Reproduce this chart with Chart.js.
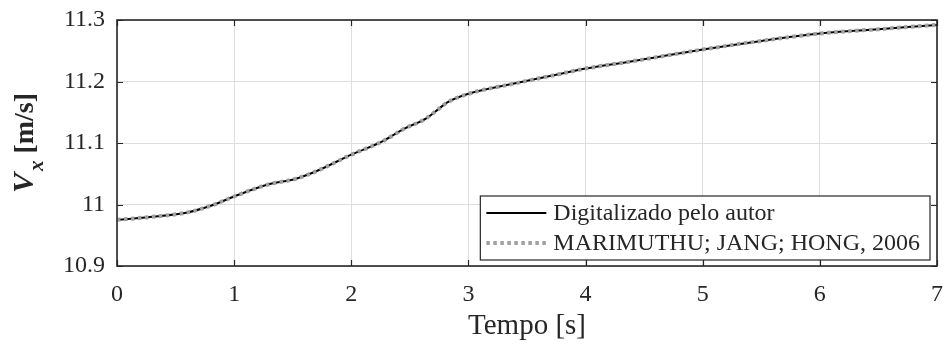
<!DOCTYPE html>
<html>
<head>
<meta charset="utf-8">
<script src="https://cdn.jsdelivr.net/npm/chart.js@4/dist/chart.umd.min.js"></script>
<style>
  html, body { margin: 0; padding: 0; background: #ffffff; }
  #wrap { width: 947px; height: 347px; position: relative; }
</style>
</head>
<body>
<div id="wrap"><canvas id="c" width="947" height="347"></canvas></div>
<script>
// ---- data ----
const timeValues = [0, 0.3, 0.6, 0.8, 1.0, 1.28, 1.53, 1.7, 2.0, 2.27, 2.45, 2.64, 2.73, 2.82, 3.0, 3.4, 3.8, 4.0, 4.4, 5.0, 5.5, 6.0, 6.5, 7.0];
const digitizedValues = [10.975, 10.980, 10.987, 10.998, 11.013, 11.032, 11.042, 11.054, 11.081, 11.103, 11.123, 11.140, 11.153, 11.166, 11.180, 11.197, 11.213, 11.221, 11.233, 11.252, 11.266, 11.278, 11.285, 11.292];
const referenceValues = [10.975, 10.980, 10.987, 10.998, 11.013, 11.032, 11.042, 11.054, 11.081, 11.103, 11.123, 11.140, 11.153, 11.166, 11.180, 11.197, 11.213, 11.221, 11.233, 11.252, 11.266, 11.278, 11.285, 11.292];
const seriesLabels = ['Digitalizado pelo autor', 'MARIMUTHU; JANG; HONG, 2006'];
const xTicks = [0, 1, 2, 3, 4, 5, 6, 7];
const yTicks = [10.9, 11.0, 11.1, 11.2, 11.3];
const xTitle = 'Tempo [s]';
const yTitleMain = 'V';
const yTitleSub = 'x';
const yTitleUnit = ' [m/s]';

const FONT = '"Liberation Serif", "Times New Roman", serif';
const TXT = '#262626';

const toPoints = (xs, ys) => xs.map((x, i) => ({ x: x, y: ys[i] }));

const matlabPlugin = {
  id: 'matlabStyle',
  afterDraw(chart) {
    const ctx = chart.ctx;
    const a = chart.chartArea;
    const xs = chart.scales.x, ys = chart.scales.y;
    ctx.save();
    // inward ticks
    ctx.strokeStyle = TXT;
    ctx.lineWidth = 1.2;
    const tl = 6;
    ctx.beginPath();
    xTicks.forEach(v => {
      const px = Math.round(xs.getPixelForValue(v)) + 0.5;
      ctx.moveTo(px, a.bottom); ctx.lineTo(px, a.bottom - tl);
      ctx.moveTo(px, a.top); ctx.lineTo(px, a.top + tl);
    });
    yTicks.forEach(v => {
      const py = Math.round(ys.getPixelForValue(v)) + 0.5;
      ctx.moveTo(a.left, py); ctx.lineTo(a.left + tl, py);
      ctx.moveTo(a.right, py); ctx.lineTo(a.right - tl, py);
    });
    ctx.stroke();
    // box
    ctx.lineWidth = 1.6;
    ctx.strokeRect(a.left, a.top, a.right - a.left, a.bottom - a.top);

    // legend
    ctx.font = '24px ' + FONT;
    const textW = Math.max(...seriesLabels.map(s => ctx.measureText(s).width));
    const padL = 6, sampleW = 60, gap = 7, padR = 10, rowH = 30;
    const boxRight = a.right - 7;
    const boxBottom = a.bottom - 6;
    const boxW = padL + sampleW + gap + textW + padR;
    const boxH = rowH * seriesLabels.length + 4;
    const boxLeft = boxRight - boxW;
    const boxTop = boxBottom - boxH;
    ctx.fillStyle = '#ffffff';
    ctx.fillRect(boxLeft, boxTop, boxW, boxH);
    ctx.strokeStyle = TXT;
    ctx.lineWidth = 1.2;
    ctx.strokeRect(boxLeft, boxTop, boxW, boxH);
    chart.data.datasets.forEach((ds, i) => {
      const cy = boxTop + 17 + i * rowH;
      ctx.save();
      ctx.strokeStyle = ds.borderColor;
      ctx.lineWidth = ds.borderWidth;
      ctx.setLineDash(ds.borderDash || []);
      ctx.beginPath();
      ctx.moveTo(boxLeft + padL, cy);
      ctx.lineTo(boxLeft + padL + sampleW, cy);
      ctx.stroke();
      ctx.restore();
      ctx.fillStyle = TXT;
      ctx.textBaseline = 'middle';
      ctx.textAlign = 'left';
      ctx.fillText(ds.label, boxLeft + padL + sampleW + gap, cy + 1);
    });

    // y axis title with subscript
    ctx.translate(33, (a.top + a.bottom) / 2);
    ctx.rotate(-Math.PI / 2);
    ctx.fillStyle = TXT;
    ctx.textBaseline = 'alphabetic';
    ctx.textAlign = 'left';
    const fMain = 'italic bold 30px ' + FONT;
    const fSub = 'italic bold 21px ' + FONT;
    const fUnit = 'bold 28px ' + FONT;
    ctx.font = fMain; const wV = ctx.measureText(yTitleMain).width;
    ctx.font = fSub; const wX = ctx.measureText(yTitleSub).width;
    ctx.font = fUnit; const wU = ctx.measureText(yTitleUnit).width;
    const total = wV + 2 + wX + wU;
    let x0 = -total / 2;
    ctx.font = fMain; ctx.fillText(yTitleMain, x0, 0);
    x0 += wV + 2;
    ctx.font = fSub; ctx.fillText(yTitleSub, x0, 10);
    x0 += wX;
    ctx.font = fUnit; ctx.fillText(yTitleUnit, x0, 0);
    ctx.restore();
  }
};

new Chart(document.getElementById('c'), {
  type: 'line',
  data: {
    datasets: [
      {
        label: seriesLabels[0],
        data: toPoints(timeValues, digitizedValues),
        borderColor: '#000000',
        borderWidth: 2,
        pointRadius: 0,
        cubicInterpolationMode: 'monotone',
        order: 2
      },
      {
        label: seriesLabels[1],
        data: toPoints(timeValues, referenceValues),
        borderColor: '#a0a0a0',
        borderWidth: 4,
        borderDash: [3.5, 3.5],
        pointRadius: 0,
        cubicInterpolationMode: 'monotone',
        order: 1
      }
    ]
  },
  options: {
    responsive: false,
    animation: false,
    devicePixelRatio: 1,
    layout: { padding: { left: 0, right: 10, top: 20, bottom: 0 } },
    plugins: { legend: { display: false }, tooltip: { enabled: false } },
    scales: {
      x: {
        type: 'linear',
        min: 0, max: 7,
        afterFit(s) { s.height = 81; s.paddingLeft = 0; s.paddingRight = 0; },
        afterBuildTicks(s) { s.ticks = xTicks.map(v => ({ value: v })); },
        grid: { color: '#dedede', lineWidth: 1, drawTicks: false },
        border: { display: false },
        ticks: { color: TXT, font: { family: FONT, size: 24 }, padding: 14, maxRotation: 0, callback: v => String(v) },
        title: { display: true, text: xTitle, color: TXT, font: { family: FONT, size: 29 }, padding: { top: 0, bottom: 3 } }
      },
      y: {
        type: 'linear',
        min: 10.9, max: 11.3,
        afterFit(s) { s.width = 117; s.paddingTop = 0; s.paddingBottom = 0; },
        afterBuildTicks(s) { s.ticks = yTicks.map(v => ({ value: v })); },
        grid: { color: '#dedede', lineWidth: 1, drawTicks: false },
        border: { display: false },
        ticks: { color: TXT, font: { family: FONT, size: 24 }, padding: 12, callback: v => String(Number(v.toFixed(1))) }
      }
    }
  },
  plugins: [matlabPlugin]
});
</script>
</body>
</html>
